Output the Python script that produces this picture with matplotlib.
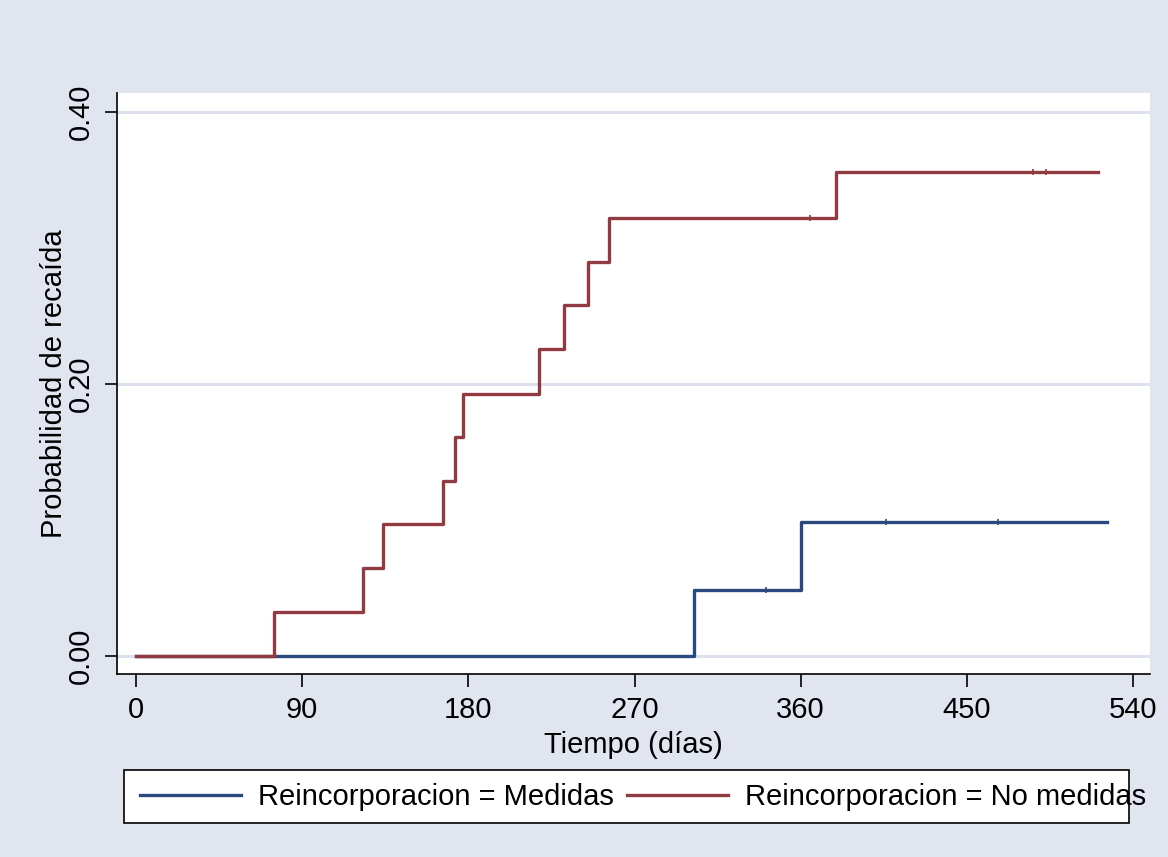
import matplotlib.pyplot as plt
from matplotlib.patches import Rectangle

plt.rcParams['font.family'] = ['Liberation Sans', 'DejaVu Sans']

# Kaplan-Meier failure curves
t_med   = [0, 302, 360, 526]
f_med   = [0, 0.0485, 0.0985, 0.0985]
cens_med_t = [341, 406, 467]

t_nomed = [0, 75, 123, 134, 166, 173, 177, 218, 232, 245, 256, 379, 521]
f_nomed = [0, 0.0323, 0.0646, 0.0968, 0.129, 0.161, 0.193, 0.226, 0.258,
           0.290, 0.322, 0.356, 0.356]
cens_nomed_t = [365, 486, 493]

xticks = [0, 90, 180, 270, 360, 450, 540]
yticks = [0.0, 0.2, 0.4]
labels = ['Reincorporacion = Medidas', 'Reincorporacion = No medidas']

bg   = '#e1e5ef'
blue = '#2a4a7f'
red  = '#923a42'
fs   = 21

fig = plt.figure(figsize=(11.68, 8.57), dpi=100, facecolor=bg)
ax = fig.add_axes([117/1168, 1-674/857, (1150-117)/1168, (674-93)/857])
ax.set_facecolor('white')

for y in yticks:
    ax.axhline(y, color='#dde1ee', lw=2.2, zorder=1)

ax.step(t_med, f_med, where='post', color=blue, lw=2.4, label=labels[0], zorder=3)
ax.step(t_nomed, f_nomed, where='post', color=red, lw=2.4, label=labels[1], zorder=4)

def val_at(ts, fs_, t):
    v = fs_[0]
    for a, b in zip(ts, fs_):
        if a <= t:
            v = b
    return v

ax.plot(cens_med_t, [val_at(t_med, f_med, t) for t in cens_med_t], '|',
        color=blue, ms=4, mew=1.2, zorder=3)
ax.plot(cens_nomed_t, [val_at(t_nomed, f_nomed, t) for t in cens_nomed_t], '|',
        color=red, ms=4, mew=1.2, zorder=4)

ax.set_xlim(-10.3, 549.2)
ax.set_ylim(-0.0132, 0.414)
ax.set_xticks(xticks)
ax.set_yticks(yticks)
ax.set_yticklabels(['%.2f' % y for y in yticks], rotation=90, va='center')
ax.tick_params(axis='both', labelsize=fs, length=9, width=1.2, color='black')
ax.tick_params(axis='x', pad=7)
ax.tick_params(axis='y', pad=7)

for s in ['top', 'right']:
    ax.spines[s].set_visible(False)
for s in ['left', 'bottom']:
    ax.spines[s].set_linewidth(1.2)

ax.set_xlabel('Tiempo (días)', fontsize=fs, labelpad=5)
ax.set_ylabel('Probabilidad de recaída', fontsize=fs, labelpad=-1)

# legend box (text spills slightly past the right edge, as in the original)
fig.add_artist(Rectangle((124/1168, 1-823/857), 1005/1168, 53/857,
                         transform=fig.transFigure, facecolor='white',
                         edgecolor='black', lw=1.2, zorder=1))
leg = fig.legend(loc='center left', ncol=2, fontsize=fs,
                 bbox_to_anchor=(140/1168, 1-797/857),
                 frameon=False, handlelength=3.45, handletextpad=0.6,
                 columnspacing=0.45, borderpad=0, borderaxespad=0)
leg.set_zorder(2)

fig.savefig('out.png', dpi=100, facecolor=bg)
